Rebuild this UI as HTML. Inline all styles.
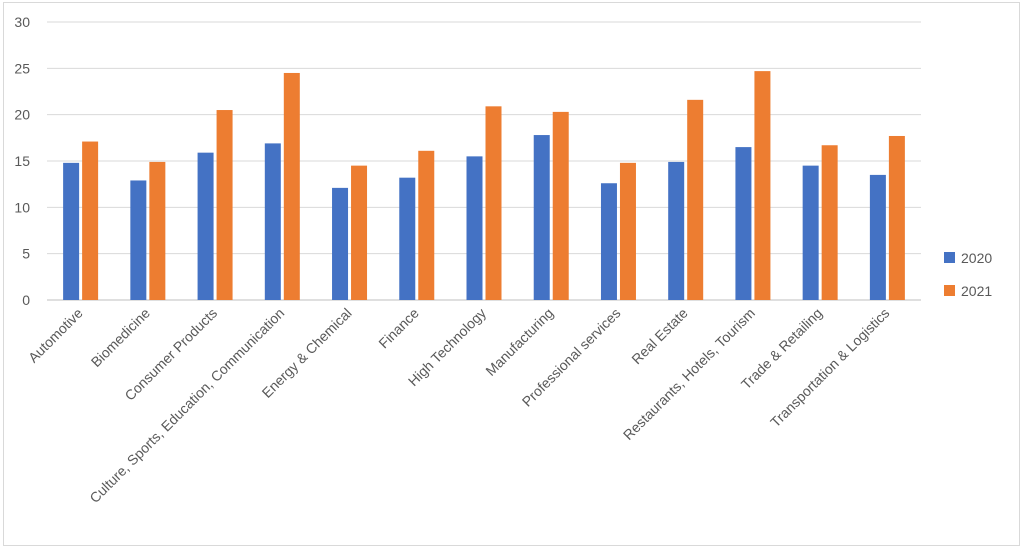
<!DOCTYPE html>
<html><head><meta charset="utf-8"><style>
html,body{margin:0;padding:0;background:#fff;}
svg{display:block;font-family:"Liberation Sans",sans-serif;}
</style></head><body>
<svg id="chart" width="1024" height="549" viewBox="0 0 1024 549">
<rect x="3.5" y="2.5" width="1016" height="543" fill="#fff" stroke="#d9d9d9" stroke-width="1"/>
<g id="grid"></g><g id="bars"></g><g id="labels"></g>
<g>
<rect x="944" y="252" width="11" height="11" fill="#4472c4"/>
<text x="961" y="263" font-size="14" fill="#595959">2020</text>
<rect x="944" y="285" width="11" height="11" fill="#ed7d31"/>
<text x="961" y="296" font-size="14" fill="#595959">2021</text>
</g>
</svg>
<script>
const categories=["Automotive","Biomedicine","Consumer Products","Culture, Sports, Education, Communication","Energy & Chemical","Finance","High Technology","Manufacturing","Professional services","Real Estate","Restaurants, Hotels, Tourism","Trade & Retailing","Transportation & Logistics"];
const values2020=[14.8,12.9,15.9,16.9,12.1,13.2,15.5,17.8,12.6,14.9,16.5,14.5,13.5];
const values2021=[17.1,14.9,20.5,24.5,14.5,16.1,20.9,20.3,14.8,21.6,24.7,16.7,17.7];
const yTicks=[0,5,10,15,20,25,30];
const NS="http://www.w3.org/2000/svg";
const plotL=47,plotR=921,y0=300,yTop=22,yMax=30;
const y=v=>y0-(v/yMax)*(y0-yTop);
const step=(plotR-plotL)/categories.length;
const cx=i=>plotL+step*(i+0.5);
const grid=document.getElementById('grid'),bars=document.getElementById('bars'),labels=document.getElementById('labels');
function mk(t,a){const e=document.createElementNS(NS,t);for(const k in a)e.setAttribute(k,a[k]);return e;}
yTicks.forEach(t=>{
 const l=mk('line',{x1:plotL,x2:plotR,y1:y(t),y2:y(t),stroke:t===0?'#bfbfbf':'#d9d9d9','stroke-width':1});
 
 
 grid.appendChild(l);
 const tx=mk('text',{x:30,y:y(t)+5,'text-anchor':'end','font-size':14,fill:'#595959'});
 tx.textContent=t;
 
 
 grid.appendChild(tx);
});
const bw=16,gap=3;
categories.forEach((c,i)=>{
 const x=cx(i);
 const b1=mk('rect',{x:x-gap/2-bw,y:y(values2020[i]),width:bw,height:y0-y(values2020[i]),fill:'#4472c4'});
 
 
 bars.appendChild(b1);
 const b2=mk('rect',{x:x+gap/2,y:y(values2021[i]),width:bw,height:y0-y(values2021[i]),fill:'#ed7d31'});
 
 
 bars.appendChild(b2);
 const lx=x+3,ly=314;
 const t=mk('text',{x:lx,y:ly,'text-anchor':'end','font-size':14,fill:'#595959',transform:`rotate(-45 ${lx} ${ly})`});
 t.textContent=c;
 
 
 labels.appendChild(t);
});
</script>
</body></html>
